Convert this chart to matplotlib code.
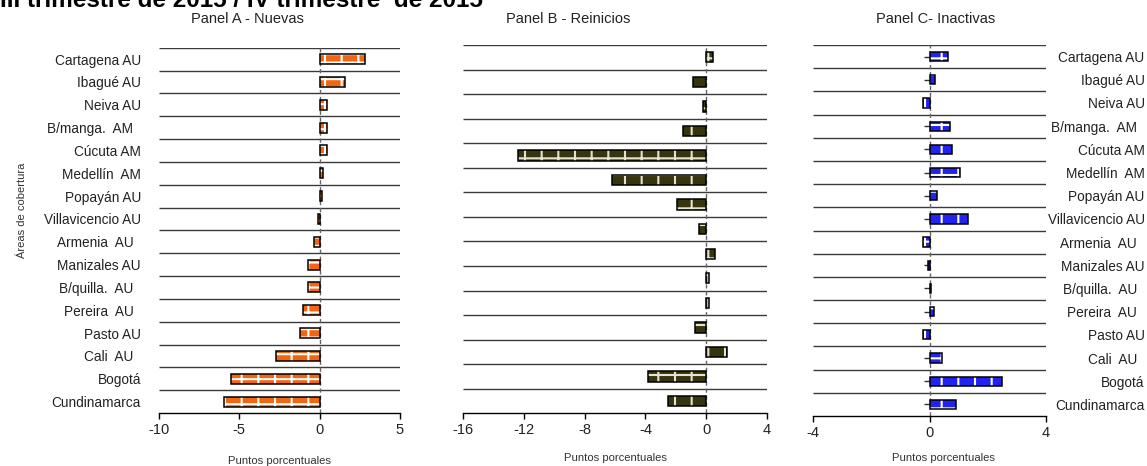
import numpy as np
import matplotlib
matplotlib.use("Agg")
import matplotlib.pyplot as plt

plt.rcParams['font.family'] = ['Liberation Sans', 'DejaVu Sans']
plt.rcParams['hatch.linewidth'] = 1.5

# Data
categorias = ["Cartagena AU", "Ibagué AU", "Neiva AU", "B/manga.  AM  ", "Cúcuta AM",
              "Medellín  AM", "Popayán AU", "Villavicencio AU", "Armenia  AU  ",
              "Manizales AU", "B/quilla.  AU  ", "Pereira  AU  ", "Pasto AU",
              "Cali  AU  ", "Bogotá", "Cundinamarca"]
nuevas = [2.8, 1.6, 0.45, 0.45, 0.45, 0.2, 0.12, -0.08, -0.35, -0.75, -0.75,
          -1.05, -1.25, -2.7, -5.5, -5.95]
reinicios = [0.45, -0.9, -0.2, -1.55, -12.4, -6.2, -1.95, -0.5, 0.55, 0.2, 0.2,
             -0.75, 1.4, -3.8, -2.5]
inactivas = [0.65, 0.2, -0.22, 0.7, 0.78, 1.05, 0.25, 1.33, -0.23, -0.05, 0.05,
             0.17, -0.23, 0.42, 2.48, 0.9]

titulo = "III trimestre de 2015 / IV trimestre  de 2015"
xlabel = "Puntos porcentuales"

W, H = 1147, 466
fig = plt.figure(figsize=(W / 100, H / 100), dpi=100)


def px_axes(left, right, top, bottom):
    return fig.add_axes([left / W, 1 - bottom / H, (right - left) / W, (bottom - top) / H])


def draw_panel(ax, values, face, hatch_col, hatch, xlim, xticks, bar_h):
    n = len(values)
    y = np.arange(n)
    # hatched fill, then black outline on top
    ax.barh(y, values, height=bar_h, color=face, edgecolor=hatch_col, hatch=hatch,
            linewidth=0, zorder=3)
    ax.barh(y, values, height=bar_h, fill=False, edgecolor='black', linewidth=1.1,
            zorder=4)
    ax.set_xlim(*xlim)
    ax.set_ylim(n - 0.5, -0.5)
    ax.hlines(np.arange(n) - 0.5, xlim[0], xlim[1], color='#3a3a3a', lw=1.0, zorder=1)
    ax.axvline(0, color='#666666', lw=1.0, ls=(0, (3, 2)), zorder=2)
    ax.set_xticks(xticks)
    ax.set_xticklabels([str(t) for t in xticks])
    for s in ['top', 'right', 'left']:
        ax.spines[s].set_visible(False)
    ax.spines['bottom'].set_linewidth(1.0)
    ax.tick_params(axis='x', length=4, width=1, pad=3, labelsize=10.5,
                   labelcolor='#222222')
    return y


# Panel A
axA = px_axes(159, 400, 47.7, 413)
yA = draw_panel(axA, nuevas, '#F4650F', 'white', '-+', (-10, 5), [-10, -5, 0, 5], 0.44)
axA.set_yticks(yA)
axA.set_yticklabels(categorias, fontsize=9.8, color='#222222')
axA.tick_params(axis='y', length=0, pad=13)
axA.set_title("Panel A - Nuevas", fontsize=10.5, x=0.369, pad=18, color='#222222')
axA.set_xlabel(xlabel, fontsize=8.1, color='#333333')
axA.xaxis.set_label_coords(0.5, -0.118)

# Panel B
axB = px_axes(463, 767, 45, 413.3)
draw_panel(axB, reinicios, '#36350e', '#e6e4d0', '+', (-16, 4), [-16, -12, -8, -4, 0, 4], 0.42)
axB.set_yticks([])
axB.set_title("Panel B - Reinicios", fontsize=10.5, x=0.345, pad=16, color='#222222')
axB.set_xlabel(xlabel, fontsize=8.1, color='#333333')
axB.xaxis.set_label_coords(0.5, -0.108)

# Panel C
axC = px_axes(813, 1046, 45, 416)
yC = draw_panel(axC, inactivas, '#2323F0', 'white', '+', (-4, 4), [-4, 0, 4], 0.40)
axC.plot(np.zeros(len(yC)), yC, ls='none', marker=0, ms=4, mew=1, color='#333333', zorder=2)
axC.yaxis.tick_right()
axC.set_yticks(yC)
axC.set_yticklabels(categorias, fontsize=9.8, color='#222222', ha='right')
axC.tick_params(axis='y', length=0, pad=71)
axC.set_title("Panel C- Inactivas", fontsize=10.5, x=0.526, pad=16, color='#222222')
axC.set_xlabel(xlabel, fontsize=8.1, color='#333333')
axC.xaxis.set_label_coords(0.562, -0.1)

fig.text(22 / W, 1 - 210 / H, "Áreas de cobertura", rotation=90, fontsize=8,
         ha='center', va='center', color='#333333')
# the chart title is cut by the top edge in the source image
fig.text(0.0, 1 - 7 / H, titulo, fontsize=17.5, fontweight='bold', ha='left',
         va='baseline')

fig.savefig("out.png", dpi=100)
